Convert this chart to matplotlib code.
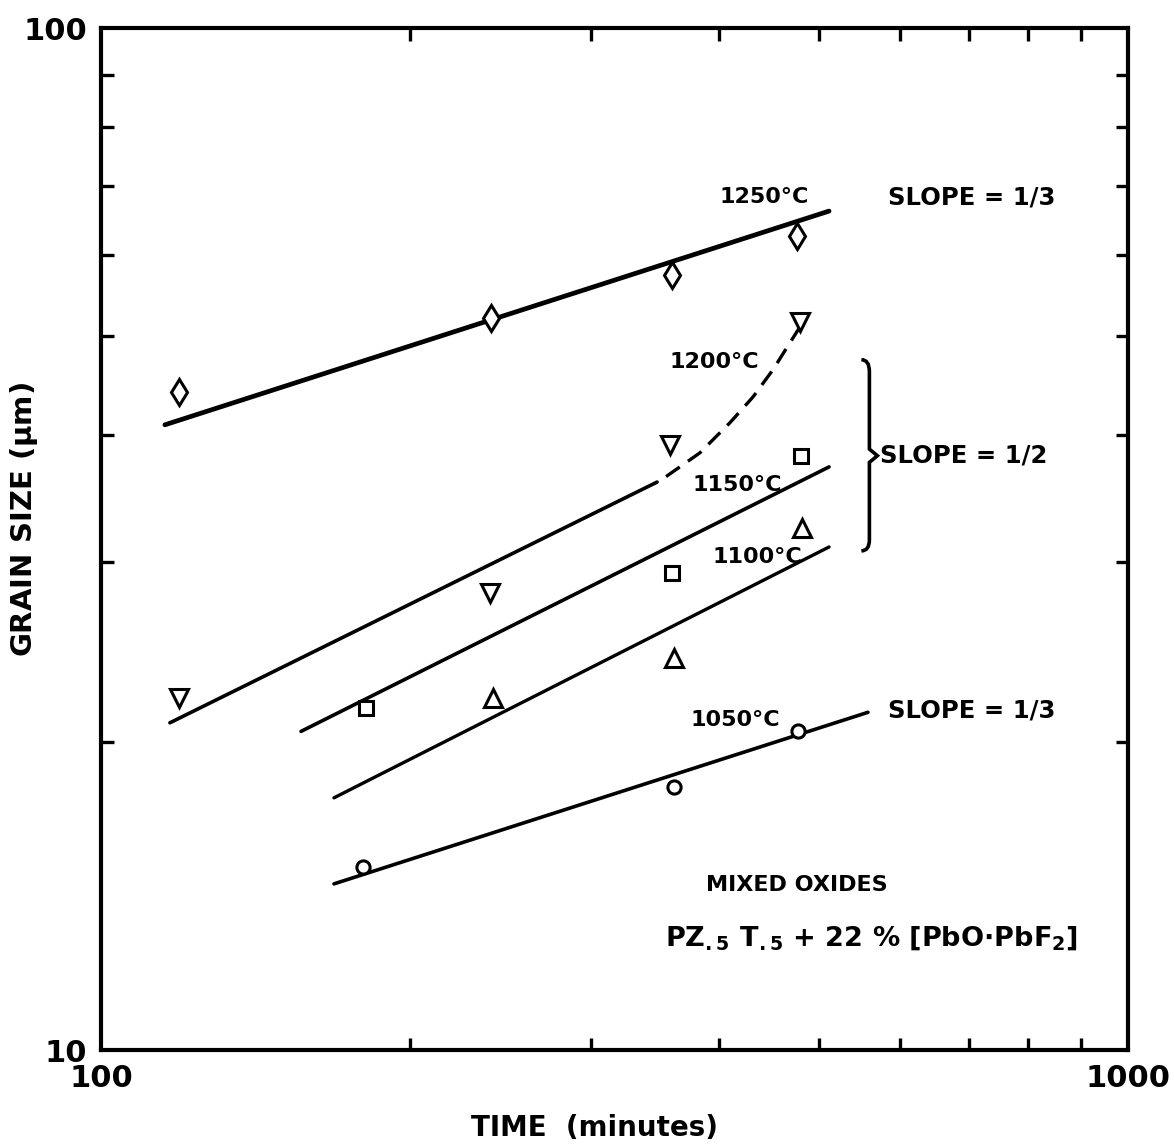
import matplotlib.pyplot as plt
from matplotlib.path import Path
from matplotlib.patches import PathPatch
import numpy as np

# data (time in minutes, grain size in um)
T1250_X = [119, 240, 360, 476]
T1250_Y = [44.0, 52.0, 57.3, 62.6]
T1200_X = [119, 239, 358, 479]
T1200_Y = [22.1, 28.0, 39.1, 51.6]
T1150_X = [181, 360, 480]
T1150_Y = [21.6, 29.3, 38.1]
T1100_X = [241, 361, 481]
T1100_Y = [22.1, 24.2, 32.4]
T1050_X = [180, 361, 477]
T1050_Y = [15.1, 18.1, 20.5]

# fitted lines (end points)
FIT_1250_X = [115.4, 511.6]
FIT_1250_Y = [40.9, 66.2]
FIT_1200_X = [116.7, 347.9]
FIT_1200_Y = [20.9, 35.95]
FIT_1150_X = [156.6, 511.6]
FIT_1150_Y = [20.5, 37.2]
FIT_1100_X = [168.6, 511.6]
FIT_1100_Y = [17.65, 31.06]
FIT_1050_X = [168.6, 558.2]
FIT_1050_Y = [14.54, 21.4]

# dashed bend of the 1200C curve
BEND_X = [355.0, 383.0, 409.7, 431.4, 451.1, 465.6, 479.3]
BEND_Y = [36.4, 38.4, 41.1, 43.55, 46.3, 48.7, 51.0]

BRACE_X = 560
BRACE_Y = [31.1, 46.8]

plt.rcParams['font.family'] = 'DejaVu Sans'
plt.rcParams['font.weight'] = 'bold'
plt.rcParams['axes.labelweight'] = 'bold'
plt.rcParams['mathtext.fontset'] = 'dejavusans'
plt.rcParams['mathtext.default'] = 'bf'

fig = plt.figure(figsize=(11.74, 11.46), dpi=100)
ax = fig.add_axes([101/1174, 96/1146, 1027/1174, 1022/1146])
ax.set_xscale('log')
ax.set_yscale('log')
ax.set_xlim(100, 1000)
ax.set_ylim(10, 100)

mk = dict(linestyle='none', markerfacecolor='white', markeredgecolor='black',
          markeredgewidth=2.2, zorder=4)
ax.plot(T1250_X, T1250_Y, marker='d', markersize=13, **mk)
ax.plot(T1200_X, T1200_Y, marker='v', markersize=13, **mk)
ax.plot(T1150_X, T1150_Y, marker='s', markersize=10, **mk)
ax.plot(T1100_X, T1100_Y, marker='^', markersize=13, **mk)
ax.plot(T1050_X, T1050_Y, marker='o', markersize=9.5, **mk)

ax.plot(FIT_1250_X, FIT_1250_Y, color='black', lw=3.4, solid_capstyle='round')
ax.plot(FIT_1200_X, FIT_1200_Y, color='black', lw=2.6, solid_capstyle='round')
ax.plot(FIT_1150_X, FIT_1150_Y, color='black', lw=2.6, solid_capstyle='round')
ax.plot(FIT_1100_X, FIT_1100_Y, color='black', lw=2.4, solid_capstyle='round')
ax.plot(FIT_1050_X, FIT_1050_Y, color='black', lw=2.6, solid_capstyle='round')

bx = np.logspace(np.log10(BEND_X[0]), np.log10(BEND_X[-1]), 60)
by = np.interp(np.log10(bx), np.log10(BEND_X), np.log10(BEND_Y))
ax.plot(bx, 10**by, color='black', lw=2.4, linestyle=(0, (5, 3)))

# brace for slope 1/2
lo, hi = BRACE_Y
mid = 10**((np.log10(lo) + np.log10(hi)) / 2)
f = 10**(8/1027)
verts = [(BRACE_X/f, hi*1.012), (BRACE_X, hi*1.012), (BRACE_X, hi*0.985),
         (BRACE_X, mid*1.015), (BRACE_X*f, mid),
         (BRACE_X, mid*0.985), (BRACE_X, lo*1.015), (BRACE_X, lo*0.99), (BRACE_X/f, lo*0.99)]
codes = [Path.MOVETO, Path.CURVE3, Path.CURVE3, Path.LINETO, Path.LINETO,
         Path.LINETO, Path.LINETO, Path.CURVE3, Path.CURVE3]
ax.add_patch(PathPatch(Path(verts, codes), fill=False, lw=2.6, color='black'))

fs = 16
fsl = 17.5
ax.text(400.6, 68.4, '1250°C', fontsize=fs, ha='left', va='center')
ax.text(584, 68.2, 'SLOPE = 1/3', fontsize=fsl, ha='left', va='center')
ax.text(358, 47.1, '1200°C', fontsize=fs, ha='left', va='center')
ax.text(377, 35.7, '1150°C', fontsize=fs, ha='left', va='center')
ax.text(393.6, 30.4, '1100°C', fontsize=fs, ha='left', va='center')
ax.text(374.7, 21.03, '1050°C', fontsize=fs, ha='left', va='center')
ax.text(573.7, 38.2, 'SLOPE = 1/2', fontsize=fsl, ha='left', va='center')
ax.text(584, 21.5, 'SLOPE = 1/3', fontsize=fsl, ha='left', va='center')
ax.text(476, 14.5, 'MIXED OXIDES', fontsize=fs, ha='center', va='center')
ax.text(562, 12.87, r'PZ$_{.5}$ T$_{.5}$ + 22 % [PbO$\cdot$PbF$_2$]', fontsize=19.5,
        ha='center', va='center')

ax.set_xticks([100, 1000])
ax.set_xticklabels(['100', '1000'], fontsize=22)
ax.set_yticks([10, 100])
ax.set_yticklabels(['10', '100'], fontsize=22)
ax.set_xticks([200, 300, 400, 500, 600, 700, 800, 900], minor=True)
ax.set_yticks([20, 30, 40, 50, 60, 70, 80, 90], minor=True)
ax.xaxis.set_minor_formatter(plt.NullFormatter())
ax.yaxis.set_minor_formatter(plt.NullFormatter())
ax.tick_params(which='major', length=0, pad=10)
ax.tick_params(which='minor', direction='in', length=9, width=2.4,
               top=True, right=True)
for s in ax.spines.values():
    s.set_linewidth(3)

ax.set_xlabel('TIME  (minutes)', fontsize=20)
ax.xaxis.set_label_coords(0.481, -0.063)
ax.set_ylabel(r'GRAIN SIZE ($\mu$m)', fontsize=21)
ax.yaxis.set_label_coords(-0.059, 0.519)

fig.savefig('out.png', dpi=100)
